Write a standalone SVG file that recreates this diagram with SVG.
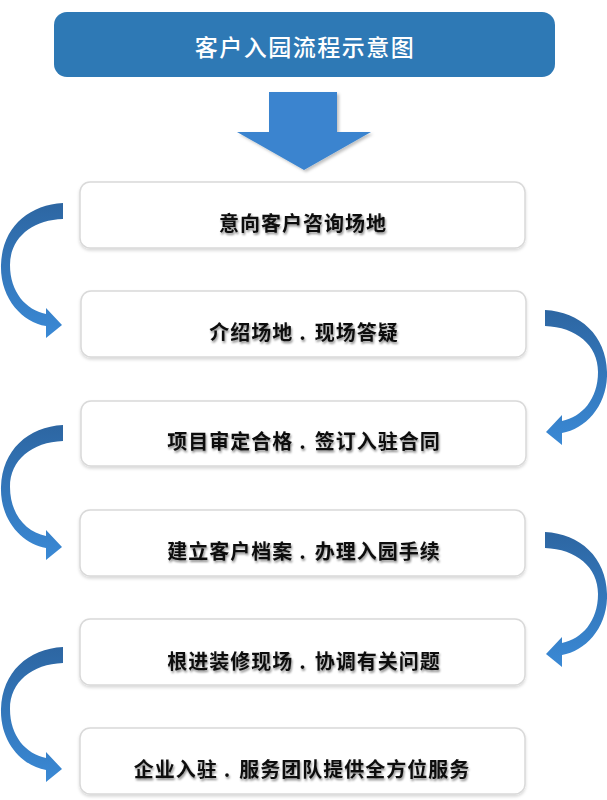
<svg xmlns="http://www.w3.org/2000/svg" width="607" height="800" viewBox="0 0 607 800">
<defs>
<style>
.box{fill:#ffffff;stroke:#d9d9d9;stroke-width:1.5;filter:url(#bs)}
.lbl{font-family:"Noto Sans CJK SC","Noto Sans",sans-serif;font-weight:bold;font-size:20px;fill:#111111;text-anchor:middle;letter-spacing:1px;filter:url(#ts)}
.ttl{font-family:"Noto Sans CJK SC","Noto Sans",sans-serif;font-weight:500;font-size:23px;fill:#ffffff;text-anchor:middle;letter-spacing:1.5px}
.carrow{fill:url(#ag)}
</style>
<linearGradient id="ag" x1="0" y1="0" x2="0" y2="1">
<stop offset="0" stop-color="#2d66a2"/>
<stop offset="1" stop-color="#3a89d5"/>
</linearGradient>
<filter id="bs" x="-5%" y="-20%" width="110%" height="150%">
<feDropShadow dx="0" dy="2" stdDeviation="1.5" flood-color="#000" flood-opacity="0.15"/>
</filter>
<filter id="ts" x="-5%" y="-30%" width="110%" height="170%">
<feDropShadow dx="1" dy="2" stdDeviation="1.2" flood-color="#000" flood-opacity="0.45"/>
</filter>
<filter id="as" x="-10%" y="-10%" width="130%" height="130%">
<feDropShadow dx="2" dy="2" stdDeviation="1.5" flood-color="#000" flood-opacity="0.25"/>
</filter>
<path id="larr" d="M63,203 C28,205 2,228 1,265 C0,298 22,322 46,326 L46,338 L62,325 L46,308 L46,314 C26,310 10,292 10,265 C10,238 32,220 63,219 Z"/>
</defs>

<g id="title">
<rect x="54" y="12" width="501" height="65" rx="13" fill="#2e79b5"/>
<text class="ttl" x="305" y="56">客户入园流程示意图</text>
</g>

<g id="connectors">
<path d="M269,92 L337,92 L337,132 L371,132 L304,170 L237,132 L269,132 Z" fill="#3a84cf" filter="url(#as)"/>
<use href="#larr" class="carrow"/>
<use href="#larr" class="carrow" transform="translate(608,107) scale(-1,1)"/>
<use href="#larr" class="carrow" transform="translate(0,222)"/>
<use href="#larr" class="carrow" transform="translate(608,329) scale(-1,1)"/>
<use href="#larr" class="carrow" transform="translate(0,444)"/>
</g>

<g id="step1">
<rect class="box" x="80" y="182" width="445" height="66" rx="10"/>
<text class="lbl" x="303" y="231">意向客户咨询场地</text>
</g>
<g id="step2">
<rect class="box" x="81" y="291" width="445" height="66" rx="10"/>
<text class="lbl" x="304" y="340">介绍场地<tspan dx="6">.</tspan><tspan dx="8">现场答疑</tspan></text>
</g>
<g id="step3">
<rect class="box" x="81" y="401" width="445" height="65" rx="10"/>
<text class="lbl" x="304" y="449">项目审定合格<tspan dx="6">.</tspan><tspan dx="8">签订入驻合同</tspan></text>
</g>
<g id="step4">
<rect class="box" x="80" y="510" width="445" height="66" rx="10"/>
<text class="lbl" x="304" y="559">建立客户档案<tspan dx="6">.</tspan><tspan dx="8">办理入园手续</tspan></text>
</g>
<g id="step5">
<rect class="box" x="80" y="619" width="445" height="66" rx="10"/>
<text class="lbl" x="304" y="669">根进装修现场<tspan dx="6">.</tspan><tspan dx="8">协调有关问题</tspan></text>
</g>
<g id="step6">
<rect class="box" x="80" y="728" width="445" height="66" rx="10"/>
<text class="lbl" x="302" y="777">企业入驻<tspan dx="6">.</tspan><tspan dx="8">服务团队提供全方位服务</tspan></text>
</g>
</svg>
